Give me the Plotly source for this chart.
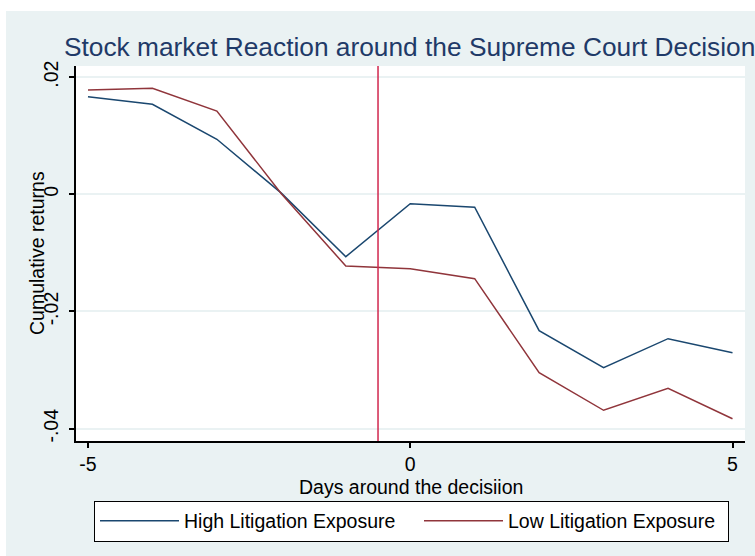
import plotly.graph_objects as go

# ---- data ----
days = [-5, -4, -3, -2, -1, 0, 1, 2, 3, 4, 5]
high_exposure = [0.01666, 0.01536, 0.00939, 0.0002, -0.01065, -0.0016, -0.0022,
                 -0.02328, -0.02959, -0.02464, -0.02703]
low_exposure = [0.0178, 0.01809, 0.01421, 0.0001, -0.01224, -0.0127, -0.0144,
                -0.03044, -0.03686, -0.0331, -0.0383]
decision_day = -0.5
x_tickvals = [-5, 0, 5]
x_ticktext = ["-5", "0", "5"]
y_tickvals = [0.02, 0, -0.02, -0.04]
y_ticktext = [".02", "0", "-.02", "-.04"]
series_names = ["High Litigation Exposure", "Low Litigation Exposure"]
title_text = "Stock market Reaction around the Supreme Court Decision"
x_title = "Days around the decisiion"
y_title = "Cumulative returns"

FONT = "Arial, Liberation Sans, sans-serif"
BG = "#EAF2F3"
W, H = 755, 556
ML, MR, MT, MB = 76, 10, 66, 115
PW, PH = W - ML - MR, H - MT - MB
FS = 19.5


def px_x(p):
    return (p - ML) / PW


def px_y(p):
    return (H - MB - p) / PH


fig = go.Figure()
fig.add_trace(go.Scatter(x=days, y=high_exposure, mode="lines", name=series_names[0],
                         line=dict(color="#1a476f", width=1.5), legendwidth=230))
fig.add_trace(go.Scatter(x=days, y=low_exposure, mode="lines", name=series_names[1],
                         line=dict(color="#90353b", width=1.5), legendwidth=215))

fig.add_vline(x=decision_day, line=dict(color="#d1264d", width=1.5))

# white strips of the surrounding page (top and left)
fig.add_shape(type="rect", xref="paper", yref="paper", x0=px_x(-5), x1=px_x(W + 5),
              y0=px_y(11), y1=px_y(-5), fillcolor="white", line_width=0, layer="above")
fig.add_shape(type="rect", xref="paper", yref="paper", x0=px_x(-5), x1=px_x(6),
              y0=px_y(H + 5), y1=px_y(-5), fillcolor="white", line_width=0, layer="above")

# axis titles placed as in the original
fig.add_annotation(text=x_title, xref="paper", yref="paper", x=px_x(410.5), y=px_y(486.5),
                   xanchor="center", yanchor="middle", showarrow=False,
                   font=dict(family=FONT, size=FS, color="black"))
fig.add_annotation(text=y_title, xref="paper", yref="paper", x=px_x(36.5), y=px_y(253.5),
                   xanchor="center", yanchor="middle", textangle=-90, showarrow=False,
                   font=dict(family=FONT, size=FS, color="black"))

fig.update_layout(
    width=W, height=H,
    margin=dict(l=ML, r=MR, t=MT, b=MB, pad=0, autoexpand=False),
    paper_bgcolor=BG, plot_bgcolor="white",
    font=dict(family=FONT, size=FS, color="black"),
    title=dict(text=title_text,
               x=64 / W, xanchor="left", xref="container",
               y=1 - 47 / H, yanchor="middle", yref="container",
               font=dict(family=FONT, size=26.3, color="#1f3a68")),
    xaxis=dict(range=[-5.186, 5.194], tickvals=x_tickvals, ticktext=x_ticktext,
               showgrid=False, zeroline=False, showline=True, linecolor="black",
               linewidth=1.5, ticks="outside", ticklen=5, tickwidth=1.5, tickcolor="black",
               automargin=False),
    yaxis=dict(range=[-0.0421, 0.02189], tickvals=y_tickvals, ticktext=y_ticktext,
               tickangle=-90, showgrid=True, gridcolor=BG, gridwidth=1.5, zeroline=False,
               showline=True, linecolor="black", linewidth=1.5, ticks="outside",
               ticklen=5, tickwidth=1.5, tickcolor="black", automargin=False,
               ticklabelstandoff=3),
    legend=dict(orientation="h", x=px_x(94), y=px_y(500.5), xanchor="left", yanchor="top",
                bgcolor="white", bordercolor="black", borderwidth=1,
                itemwidth=79, font=dict(size=FS, color="black")),
    showlegend=True,
)

fig.write_html("out.html", config={"displayModeBar": False},
               post_script="document.body.style.margin='0';")
